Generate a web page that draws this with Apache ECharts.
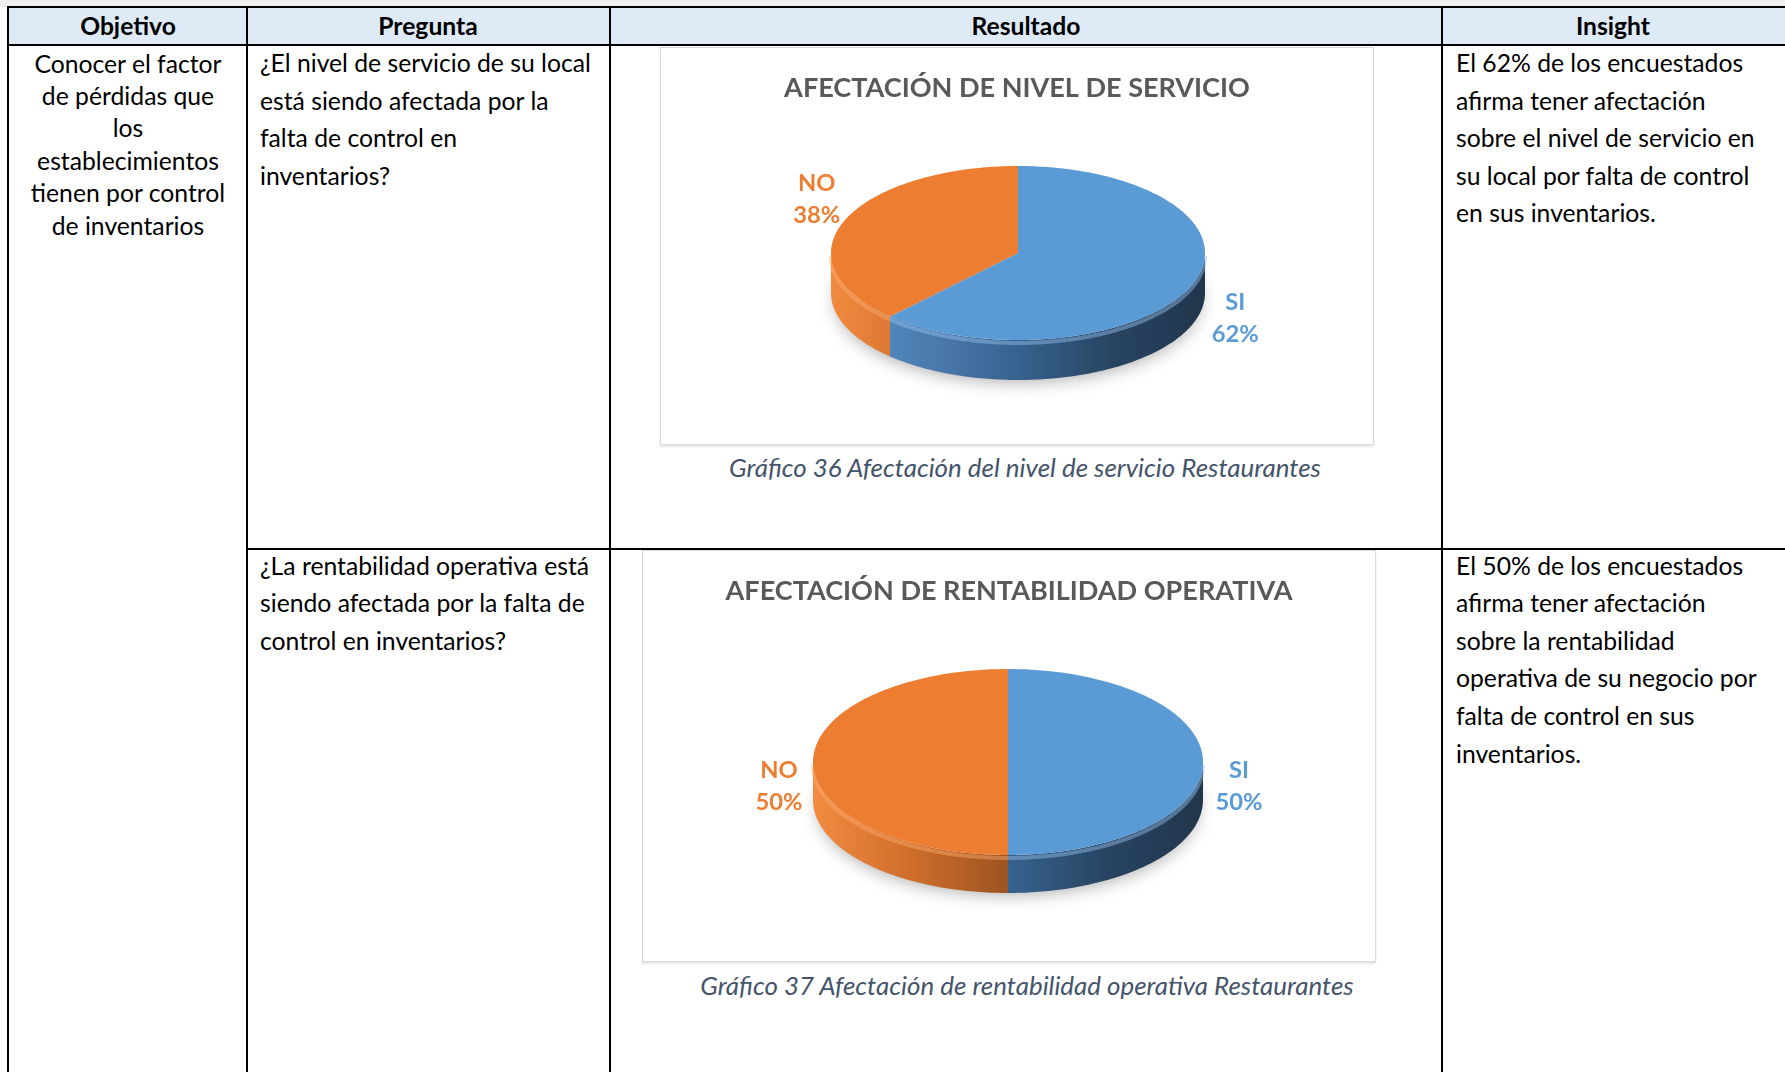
<!DOCTYPE html>
<html><head><meta charset="utf-8">
<script src="https://cdn.jsdelivr.net/npm/echarts@6/dist/echarts.min.js"></script>
<style>
html,body{margin:0;padding:0;background:#fff;width:1785px;height:1072px;overflow:hidden;position:relative;font-family:Lato,'Noto Sans',sans-serif;}
.ln{position:absolute;background:#000;}
.t{position:absolute;white-space:nowrap;color:#000;}
.box{position:absolute;border:1px solid #d9d9d9;box-sizing:border-box;box-shadow:0 2px 2px rgba(0,0,0,0.10);background:#fff;}
.box > div.c{position:absolute;left:0;top:0;right:0;bottom:0;}
</style></head><body>
<script>
// ---------- data ----------
const headers = ['Objetivo', 'Pregunta', 'Resultado', 'Insight'];
const objetivoLines = ['Conocer el factor', 'de pérdidas que', 'los', 'establecimientos', 'tienen por control', 'de inventarios'];
const pregunta1Lines = ['¿El nivel de servicio de su local', 'está siendo afectada por la', 'falta de control en', 'inventarios?'];
const pregunta2Lines = ['¿La rentabilidad operativa está', 'siendo afectada por la falta de', 'control en inventarios?'];
const insight1Lines = ['El 62% de los encuestados', 'afirma tener afectación', 'sobre el nivel de servicio en', 'su local por falta de control', 'en sus inventarios.'];
const insight2Lines = ['El 50% de los encuestados', 'afirma tener afectación', 'sobre la rentabilidad', 'operativa de su negocio por', 'falta de control en sus', 'inventarios.'];

const chart1Title = 'AFECTACIÓN DE NIVEL DE SERVICIO';
const chart1Categories = ['SI', 'NO'];
const chart1Values = [62, 38];
const chart1Caption = 'Gráfico 36 Afectación del nivel de servicio Restaurantes';

const chart2Title = 'AFECTACIÓN DE RENTABILIDAD OPERATIVA';
const chart2Categories = ['SI', 'NO'];
const chart2Values = [50, 50];
const chart2Caption = 'Gráfico 37 Afectación de rentabilidad operativa Restaurantes';

// ---------- helpers ----------
const FAM = 'Lato';
const mctx = document.createElement('canvas').getContext('2d');
function fitSize(text, weight, style, target) {
  mctx.font = style + ' normal ' + weight + ' 100px ' + FAM;
  return 100 * target / mctx.measureText(text).width;
}
function el(cls, css, html) {
  const d = document.createElement('div');
  d.className = cls;
  Object.assign(d.style, css);
  if (html !== undefined) d.textContent = html;
  document.body.appendChild(d);
  return d;
}
function hline(x0, x1, y) { el('ln', {left: x0 + 'px', top: y + 'px', width: (x1 - x0) + 'px', height: '2px'}); }
function vline(x, y0, y1) { el('ln', {left: x + 'px', top: y0 + 'px', width: '2px', height: (y1 - y0) + 'px'}); }
function lines(arr, x, cy0, step, size, opt) {
  opt = opt || {};
  arr.forEach((s, k) => {
    const lh = Math.round(size * 1.25);
    const css = {top: (cy0 + k * step - lh / 2) + 'px', fontSize: size + 'px', lineHeight: lh + 'px',
      fontWeight: opt.bold ? 'bold' : 'normal', fontStyle: opt.italic ? 'italic' : 'normal', color: opt.color || '#000'};
    css.left = x + 'px';
    if (opt.center) css.transform = 'translateX(-50%)';
    el('t', css, s);
  });
}

// ---------- table ----------
el('bg', {position: 'absolute', left: '0px', top: '0px', width: '1785px', height: '7px', background: '#efefef'});
el('bg', {position: 'absolute', left: '8px', top: '7px', width: '1777px', height: '38px', background: '#DEEAF6'});

const bodySize = fitSize(pregunta1Lines[0], 'normal', 'normal', 331);
const headSize = fitSize(headers[2], 'bold', 'normal', 109);

lines([headers[0]], 128, 25, 0, headSize, {center: true, bold: true});
lines([headers[1]], 428, 25, 0, headSize, {center: true, bold: true});
lines([headers[2]], 1026, 25, 0, headSize, {center: true, bold: true});
lines([headers[3]], 1613, 25, 0, headSize, {center: true, bold: true});

lines(objetivoLines, 128, 63, 32.4, bodySize, {center: true});
lines(pregunta1Lines, 260, 62.5, 37.6, bodySize);
lines(insight1Lines, 1456, 62.5, 37.6, bodySize);
lines(pregunta2Lines, 260, 565, 37.6, bodySize);
lines(insight2Lines, 1456, 565, 37.6, bodySize);

const capSize = fitSize(chart1Caption, 'normal', 'italic', 593);
lines([chart1Caption], 1025, 467, 0, capSize, {center: true, italic: true, color: '#44546A'});
lines([chart2Caption], 1027, 985, 0, capSize, {center: true, italic: true, color: '#44546A'});

// ---------- 3D pies ----------
const TAU = Math.PI * 2;
const baseColors = ['#5B9BD5', '#ED7D31'];
const wallStops = [
  [[0, '#5b95cd'], [0.3, '#4877aa'], [0.5, '#37628e'], [0.75, '#284462'], [1, '#21364c']],
  [[0, '#f28b40'], [0.25, '#cf6e2c'], [0.5, '#9c5421'], [0.75, '#723c18'], [1, '#5a2f12']]
];
const rimColors = ['rgba(150,195,240,0.45)', 'rgba(255,170,110,0.45)'];

function pie3D(x, y, w, h, title, cats, vals, g) {
  const box = el('box', {left: x + 'px', top: y + 'px', width: w + 'px', height: h + 'px'});
  const c = document.createElement('div'); c.className = 'c'; box.appendChild(c);
  const chart = echarts.init(c, null, {renderer: 'canvas'});
  const total = vals.reduce((a, b) => a + b, 0);
  const starts = []; let acc = 0; vals.forEach(v => { starts.push(acc); acc += v; });
  const P = (a, dz) => [g.cx + g.rx * Math.sin(a), g.cy - g.ry * Math.cos(a) + (dz || 0)];
  const arc = (a0, a1, dz) => {
    const n = Math.max(2, Math.ceil((a1 - a0) / (Math.PI / 180)));
    const pts = [];
    for (let k = 0; k <= n; k++) pts.push(P(a0 + (a1 - a0) * k / n, dz));
    return pts;
  };
  const titleSize = g.titleSize;
  chart.setOption({
    animation: false,
    title: {text: title, left: 'center', top: g.titleCy - titleSize * 0.62, padding: 0,
      textStyle: {fontFamily: FAM, fontWeight: 'bold', fontSize: titleSize, color: '#595959'}},
    series: [{
      type: 'custom', coordinateSystem: 'none', silent: true,
      data: vals.map((v, i) => ({name: cats[i], value: v})),
      renderItem: (params, api) => {
        const i = params.dataIndex;
        const v = api.value(0);
        const a0 = starts[i] / total * TAU, a1 = (starts[i] + v) / total * TAU;
        const children = [];
        if (i === 0) {
          children.push({type: 'ellipse', shape: {cx: g.cx, cy: g.cy + g.depth - 2, rx: g.rx * 0.97, ry: g.ry * 0.93},
            style: {fill: '#ffffff', shadowBlur: 18, shadowColor: 'rgba(0,0,0,0.36)', shadowOffsetY: 9}});
        }
        const b0 = Math.max(a0, Math.PI / 2), b1 = Math.min(a1, Math.PI * 1.5);
        if (b1 > b0) {
          const top = arc(b0, b1, 0), bot = arc(b0, b1, g.depth).reverse();
          children.push({type: 'polygon', shape: {points: top.concat(bot)},
            style: {fill: new echarts.graphic.LinearGradient(g.cx - g.rx, 0, g.cx + g.rx, 0,
              wallStops[i].map(s => ({offset: s[0], color: s[1]})), true)}});
          children.push({type: 'polyline', shape: {points: arc(b0, b1, 3)},
            style: {stroke: rimColors[i], lineWidth: 4, fill: null}});
        }
        children.push({type: 'polygon', shape: {points: [[g.cx, g.cy]].concat(arc(a0, a1, 0))},
          style: {fill: baseColors[i]}});
        const m = (a0 + a1) / 2;
        const lx = g.cx + (g.rx + g.ex) * Math.sin(m) + g.hx;
        const ly = g.cy - (g.ry + g.ey) * Math.cos(m) + g.off;
        children.push({type: 'text', style: {
          text: cats[i] + '\n' + Math.round(v / total * 100) + '%', x: lx, y: ly,
          fill: baseColors[i], fontFamily: FAM, fontWeight: 'bold', fontSize: g.labelSize, lineHeight: 32,
          align: 'center', verticalAlign: 'middle'}});
        return {type: 'group', children};
      }
    }]
  });
}

const titleSize1 = fitSize(chart1Title, 'bold', 'normal', 466);
const labelSize = fitSize('38%', 'bold', 'normal', 47);

pie3D(660, 47, 714, 398, chart1Title, chart1Categories, chart1Values,
  {cx: 357, cy: 205, rx: 187, ry: 87, depth: 40, ex: 38, ey: 74, off: 6, hx: 8, titleCy: 44, titleSize: titleSize1, labelSize});
pie3D(642, 550, 734, 412, chart2Title, chart2Categories, chart2Values,
  {cx: 365, cy: 211, rx: 195, ry: 93, depth: 38, ex: 35, ey: 74, off: 24, hx: 1, titleCy: 44, titleSize: titleSize1, labelSize});

// table grid lines
hline(7, 1785, 6);
hline(7, 1785, 44);
hline(246, 1785, 548);
vline(7, 6, 1072);
vline(246, 6, 1072);
vline(609, 6, 1072);
vline(1441, 6, 1072);
</script>
</body></html>
